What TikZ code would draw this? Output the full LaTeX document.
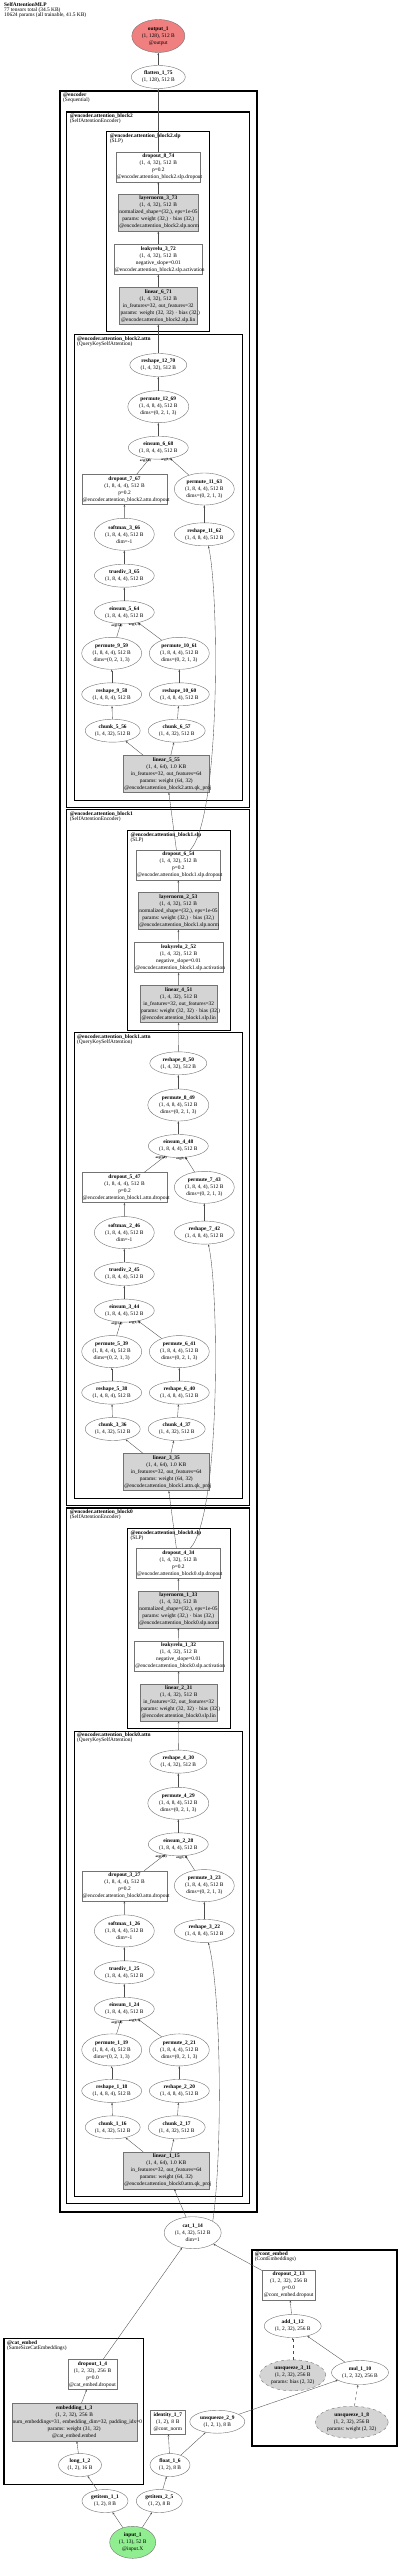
\documentclass[tikz,border=0pt]{standalone}
\usepackage{fontspec}
\setmainfont{Liberation Serif}
\usetikzlibrary{shapes.geometric, arrows.meta}
\definecolor{outred}{HTML}{F08080}
\definecolor{ingreen}{HTML}{90EE90}
\hyphenpenalty=10000
\exhyphenpenalty=10000

\begin{document}
\begin{tikzpicture}[x=1pt, y=-1pt,
    every node/.style={font=\fontsize{5.4}{7}\selectfont},
    fn/.style={ellipse, draw=black!55, line width=0.4pt, fill=white, inner sep=0pt, align=center, minimum width=60pt, minimum height=23pt},
    fn3/.style={fn, minimum height=32pt},
    pfn/.style={fn3, fill=black!17, dashed},
    mod/.style={rectangle, draw=black!55, line width=0.4pt, fill=white, inner sep=1pt, align=center, minimum height=30pt},
    modp/.style={mod, fill=black!17, minimum height=37pt},
    link/.style={draw=black!70, line width=0.35pt, -{Stealth[length=2.4pt, width=1.8pt]}},
    argl/.style={font=\fontsize{3.3}{4}\selectfont\bfseries, inner sep=0pt, anchor=north east, xshift=2pt},
    grplbl/.style={font=\fontsize{5.4}{5}\selectfont, anchor=north west, inner sep=0pt, align=left},
    grp/.style={draw=black, line width=1pt}]
\useasboundingbox (0,0) rectangle (400,2561);

\node[grplbl] (title) at (4,2) {\textbf{SelfAttentionMLP}\\77 tensors total (34.5 KB)\\10624 params (all trainable, 41.5 KB)};

\draw[grp, line width=1.6pt] (60,91) rectangle (257,2211.7);
\node[grplbl] (encoderlbl) at (63,93) {\textbf{@encoder}\\(Sequential)};
\draw[grp, line width=1.3pt] (66.7,112) rectangle (249.3,807.3);
\node[grplbl] (block2lbl) at (69.7,114) {\textbf{@encoder.attention\_block2}\\(SelfAttentionEncoder)};
\draw[grp] (106.7,132) rectangle (209.3,331.7);
\node[grplbl] (slp2lbl) at (109.7,134) {\textbf{@encoder.attention\_block2.slp}\\(SLP)};
\draw[grp] (74,334.3) rectangle (242.7,800);
\node[grplbl] (attn2lbl) at (77,336.3) {\textbf{@encoder.attention\_block2.attn}\\(QueryKeySelfAttention)};
\draw[grp, line width=1.3pt] (66.7,809.5) rectangle (249.3,1505.3);
\node[grplbl] (block1lbl) at (69.7,811.5) {\textbf{@encoder.attention\_block1}\\(SelfAttentionEncoder)};
\draw[grp] (127.3,830.3) rectangle (230,1030);
\node[grplbl] (slp1lbl) at (130.3,832.3) {\textbf{@encoder.attention\_block1.slp}\\(SLP)};
\draw[grp] (74,1032.6) rectangle (242.7,1498.3);
\node[grplbl] (attn1lbl) at (77,1034.6) {\textbf{@encoder.attention\_block1.attn}\\(QueryKeySelfAttention)};
\draw[grp, line width=1.3pt] (66.7,1508) rectangle (249.3,2203.8);
\node[grplbl] (block0lbl) at (69.7,1510) {\textbf{@encoder.attention\_block0}\\(SelfAttentionEncoder)};
\draw[grp] (127.3,1528.6) rectangle (230,1728.3);
\node[grplbl] (slp0lbl) at (130.3,1530.6) {\textbf{@encoder.attention\_block0.slp}\\(SLP)};
\draw[grp] (74,1731) rectangle (242.7,2196.6);
\node[grplbl] (attn0lbl) at (77,1733) {\textbf{@encoder.attention\_block0.attn}\\(QueryKeySelfAttention)};
\draw[grp, line width=1.6pt] (4,2338.3) rectangle (143.3,2484.3);
\node[grplbl] (catlbl) at (7,2340.3) {\textbf{@cat\_embed}\\(SameSizeCatEmbeddings)};
\draw[grp, line width=1.6pt] (251.7,2250) rectangle (396.7,2446);
\node[grplbl] (contlbl) at (254.7,2252) {\textbf{@cont\_embed}\\(ContEmbeddings)};

\node[fn3, minimum width=53pt, minimum height=33pt, fill=outred] (output_1) at (158.3,36) {\textbf{output\_1}\\(1, 128), 512 B\\@output};
\node[fn, minimum width=54pt] (flatten_1_75) at (158.3,77) {\textbf{flatten\_1\_75}\\(1, 128), 512 B};

\node[mod, text width=82.7pt] (dropout_8_74) at (158.3,166.7) {\textbf{dropout\_8\_74}\\(1, 4, 32), 512 B\\p=0.2\\@encoder.attention\_block2.slp.dropout};
\node[modp, text width=78pt] (layernorm_3_73) at (158.3,212.7) {\textbf{layernorm\_3\_73}\\(1, 4, 32), 512 B\\normalized\_shape=(32,),~eps=1e-05\\params:~weight~(32,)~·~bias~(32,)\\@encoder.attention\_block2.slp.norm};
\node[mod, text width=86.7pt] (leakyrelu_3_72) at (158.3,259.3) {\textbf{leakyrelu\_3\_72}\\(1, 4, 32), 512 B\\negative\_slope=0.01\\@encoder.attention\_block2.slp.activation};
\node[modp, text width=75.3pt] (linear_6_71) at (158.3,305.8) {\textbf{linear\_6\_71}\\(1, 4, 32), 512 B\\in\_features=32,~out\_features=32\\params:~weight~(32,~32)~·~bias~(32,)\\@encoder.attention\_block2.slp.lin};
\node[fn, minimum width=57pt] (reshape_12_70) at (158.3,365) {\textbf{reshape\_12\_70}\\(1, 4, 32), 512 B};
\node[fn3, minimum width=61pt] (permute_12_69) at (158.3,406.7) {\textbf{permute\_12\_69}\\(1, 4, 8, 4), 512 B\\dims=(0, 2, 1, 3)};
\node[fn] (einsum_6_68) at (158.3,447.7) {\textbf{einsum\_6\_68}\\(1, 8, 4, 4), 512 B};
\node[mod, text width=83.6pt] (dropout_7_67) at (124.5,489.3) {\textbf{dropout\_7\_67}\\(1, 8, 4, 4), 512 B\\p=0.2\\@encoder.attention\_block2.attn.dropout};
\node[fn3] (permute_11_63) at (204.3,489) {\textbf{permute\_11\_63}\\(1, 8, 4, 4), 512 B\\dims=(0, 2, 1, 3)};
\node[fn3] (softmax_3_66) at (124.3,534.3) {\textbf{softmax\_3\_66}\\(1, 8, 4, 4), 512 B\\dim=-1};
\node[fn] (reshape_11_62) at (204.3,534.3) {\textbf{reshape\_11\_62}\\(1, 4, 8, 4), 512 B};
\node[fn] (truediv_3_65) at (124.3,575.7) {\textbf{truediv\_3\_65}\\(1, 8, 4, 4), 512 B};
\node[fn] (einsum_5_64) at (124.3,612.3) {\textbf{einsum\_5\_64}\\(1, 8, 4, 4), 512 B};
\node[fn3] (permute_9_59) at (111.7,653.3) {\textbf{permute\_9\_59}\\(1, 8, 4, 4), 512 B\\dims=(0, 2, 1, 3)};
\node[fn3] (permute_10_61) at (179.3,653.3) {\textbf{permute\_10\_61}\\(1, 8, 4, 4), 512 B\\dims=(0, 2, 1, 3)};
\node[fn] (reshape_9_58) at (111.7,694.3) {\textbf{reshape\_9\_58}\\(1, 4, 8, 4), 512 B};
\node[fn] (reshape_10_60) at (179.3,694.3) {\textbf{reshape\_10\_60}\\(1, 4, 8, 4), 512 B};
\node[fn, minimum width=55pt] (chunk_5_56) at (112.7,730.7) {\textbf{chunk\_5\_56}\\(1, 4, 32), 512 B};
\node[fn, minimum width=57pt] (chunk_6_57) at (176.7,730.7) {\textbf{chunk\_6\_57}\\(1, 4, 32), 512 B};
\node[modp, text width=84pt] (linear_5_55) at (166.3,773.8) {\textbf{linear\_5\_55}\\(1, 4, 64), 1.0 KB\\in\_features=32, out\_features=64\\params:~weight~(64,~32)\\@encoder.attention\_block2.attn.qk\_proj};

\node[mod, text width=82.4pt] (dropout_6_54) at (178.4,865.0) {\textbf{dropout\_6\_54}\\(1, 4, 32), 512 B\\p=0.2\\@encoder.attention\_block1.slp.dropout};
\node[modp, text width=78pt] (layernorm_2_53) at (178.3,911.0) {\textbf{layernorm\_2\_53}\\(1, 4, 32), 512 B\\normalized\_shape=(32,),~eps=1e-05\\params:~weight~(32,)~·~bias~(32,)\\@encoder.attention\_block1.slp.norm};
\node[mod, text width=86.4pt] (leakyrelu_2_52) at (178.5,957.6) {\textbf{leakyrelu\_2\_52}\\(1, 4, 32), 512 B\\negative\_slope=0.01\\@encoder.attention\_block1.slp.activation};
\node[modp, text width=75.3pt] (linear_4_51) at (178.7,1004.1) {\textbf{linear\_4\_51}\\(1, 4, 32), 512 B\\in\_features=32,~out\_features=32\\params:~weight~(32,~32)~·~bias~(32,)\\@encoder.attention\_block1.slp.lin};
\node[fn, minimum width=57pt] (reshape_8_50) at (178.3,1063.3) {\textbf{reshape\_8\_50}\\(1, 4, 32), 512 B};
\node[fn3, minimum width=61pt] (permute_8_49) at (178.3,1105.0) {\textbf{permute\_8\_49}\\(1, 4, 8, 4), 512 B\\dims=(0, 2, 1, 3)};
\node[fn] (einsum_4_48) at (178.3,1146.0) {\textbf{einsum\_4\_48}\\(1, 8, 4, 4), 512 B};
\node[mod, text width=83.6pt] (dropout_5_47) at (124.5,1187.6) {\textbf{dropout\_5\_47}\\(1, 8, 4, 4), 512 B\\p=0.2\\@encoder.attention\_block1.attn.dropout};
\node[fn3] (permute_7_43) at (204.3,1187.3) {\textbf{permute\_7\_43}\\(1, 8, 4, 4), 512 B\\dims=(0, 2, 1, 3)};
\node[fn3] (softmax_2_46) at (124.3,1232.6) {\textbf{softmax\_2\_46}\\(1, 8, 4, 4), 512 B\\dim=-1};
\node[fn] (reshape_7_42) at (204.3,1232.6) {\textbf{reshape\_7\_42}\\(1, 4, 8, 4), 512 B};
\node[fn] (truediv_2_45) at (124.3,1274.0) {\textbf{truediv\_2\_45}\\(1, 8, 4, 4), 512 B};
\node[fn] (einsum_3_44) at (124.3,1310.6) {\textbf{einsum\_3\_44}\\(1, 8, 4, 4), 512 B};
\node[fn3] (permute_5_39) at (111.7,1351.6) {\textbf{permute\_5\_39}\\(1, 8, 4, 4), 512 B\\dims=(0, 2, 1, 3)};
\node[fn3] (permute_6_41) at (179.3,1351.6) {\textbf{permute\_6\_41}\\(1, 8, 4, 4), 512 B\\dims=(0, 2, 1, 3)};
\node[fn] (reshape_5_38) at (111.7,1392.6) {\textbf{reshape\_5\_38}\\(1, 4, 8, 4), 512 B};
\node[fn] (reshape_6_40) at (179.3,1392.6) {\textbf{reshape\_6\_40}\\(1, 4, 8, 4), 512 B};
\node[fn, minimum width=55pt] (chunk_3_36) at (112.7,1429.0) {\textbf{chunk\_3\_36}\\(1, 4, 32), 512 B};
\node[fn, minimum width=57pt] (chunk_4_37) at (176.7,1429.0) {\textbf{chunk\_4\_37}\\(1, 4, 32), 512 B};
\node[modp, text width=84pt] (linear_3_35) at (166.3,1472.1) {\textbf{linear\_3\_35}\\(1, 4, 64), 1.0 KB\\in\_features=32, out\_features=64\\params:~weight~(64,~32)\\@encoder.attention\_block1.attn.qk\_proj};

\node[mod, text width=82.4pt] (dropout_4_34) at (178.4,1563.3) {\textbf{dropout\_4\_34}\\(1, 4, 32), 512 B\\p=0.2\\@encoder.attention\_block0.slp.dropout};
\node[modp, text width=78pt] (layernorm_1_33) at (178.3,1609.3) {\textbf{layernorm\_1\_33}\\(1, 4, 32), 512 B\\normalized\_shape=(32,),~eps=1e-05\\params:~weight~(32,)~·~bias~(32,)\\@encoder.attention\_block0.slp.norm};
\node[mod, text width=86.4pt] (leakyrelu_1_32) at (178.5,1655.9) {\textbf{leakyrelu\_1\_32}\\(1, 4, 32), 512 B\\negative\_slope=0.01\\@encoder.attention\_block0.slp.activation};
\node[modp, text width=75.3pt] (linear_2_31) at (178.7,1702.4) {\textbf{linear\_2\_31}\\(1, 4, 32), 512 B\\in\_features=32,~out\_features=32\\params:~weight~(32,~32)~·~bias~(32,)\\@encoder.attention\_block0.slp.lin};
\node[fn, minimum width=57pt] (reshape_4_30) at (178.3,1761.6) {\textbf{reshape\_4\_30}\\(1, 4, 32), 512 B};
\node[fn3, minimum width=61pt] (permute_4_29) at (178.3,1803.3) {\textbf{permute\_4\_29}\\(1, 4, 8, 4), 512 B\\dims=(0, 2, 1, 3)};
\node[fn] (einsum_2_28) at (178.3,1844.3) {\textbf{einsum\_2\_28}\\(1, 8, 4, 4), 512 B};
\node[mod, text width=83.6pt] (dropout_3_27) at (124.5,1885.9) {\textbf{dropout\_3\_27}\\(1, 8, 4, 4), 512 B\\p=0.2\\@encoder.attention\_block0.attn.dropout};
\node[fn3] (permute_3_23) at (204.3,1885.6) {\textbf{permute\_3\_23}\\(1, 8, 4, 4), 512 B\\dims=(0, 2, 1, 3)};
\node[fn3] (softmax_1_26) at (124.3,1930.9) {\textbf{softmax\_1\_26}\\(1, 8, 4, 4), 512 B\\dim=-1};
\node[fn] (reshape_3_22) at (204.3,1930.9) {\textbf{reshape\_3\_22}\\(1, 4, 8, 4), 512 B};
\node[fn] (truediv_1_25) at (124.3,1972.3) {\textbf{truediv\_1\_25}\\(1, 8, 4, 4), 512 B};
\node[fn] (einsum_1_24) at (124.3,2008.9) {\textbf{einsum\_1\_24}\\(1, 8, 4, 4), 512 B};
\node[fn3] (permute_1_19) at (111.7,2049.9) {\textbf{permute\_1\_19}\\(1, 8, 4, 4), 512 B\\dims=(0, 2, 1, 3)};
\node[fn3] (permute_2_21) at (179.3,2049.9) {\textbf{permute\_2\_21}\\(1, 8, 4, 4), 512 B\\dims=(0, 2, 1, 3)};
\node[fn] (reshape_1_18) at (111.7,2090.9) {\textbf{reshape\_1\_18}\\(1, 4, 8, 4), 512 B};
\node[fn] (reshape_2_20) at (179.3,2090.9) {\textbf{reshape\_2\_20}\\(1, 4, 8, 4), 512 B};
\node[fn, minimum width=55pt] (chunk_1_16) at (112.7,2127.3) {\textbf{chunk\_1\_16}\\(1, 4, 32), 512 B};
\node[fn, minimum width=57pt] (chunk_2_17) at (176.7,2127.3) {\textbf{chunk\_2\_17}\\(1, 4, 32), 512 B};
\node[modp, text width=84pt] (linear_1_15) at (166.3,2170.4) {\textbf{linear\_1\_15}\\(1, 4, 64), 1.0 KB\\in\_features=32, out\_features=64\\params:~weight~(64,~32)\\@encoder.attention\_block0.attn.qk\_proj};

\node[fn3, minimum width=57pt] (cat_1_14) at (192.7,2232.7) {\textbf{cat\_1\_14}\\(1, 4, 32), 512 B\\dim=1};
\node[mod, text width=50.7pt] (dropout_2_13) at (288.7,2285) {\textbf{dropout\_2\_13}\\(1, 2, 32), 256 B\\p=0.0\\@cont\_embed.dropout};
\node[fn, minimum width=57pt] (add_1_12) at (292.7,2326) {\textbf{add\_1\_12}\\(1, 2, 32), 256 B};
\node[pfn, minimum width=66pt, minimum height=31pt] (unsqueeze_3_11) at (292.7,2375.3) {\textbf{unsqueeze\_3\_11}\\(1, 2, 32), 256 B\\params: bias (2, 32)};
\node[fn, minimum width=57pt, minimum height=24pt] (mul_1_10) at (360,2372.5) {\textbf{mul\_1\_10}\\(1, 2, 32), 256 B};
\node[pfn, minimum width=73pt] (unsqueeze_1_8) at (351.7,2422.2) {\textbf{unsqueeze\_1\_8}\\(1, 2, 32), 256 B\\params: weight (2, 32)};
\node[fn, minimum width=55pt] (unsqueeze_2_9) at (217.3,2421.7) {\textbf{unsqueeze\_2\_9}\\(1, 2, 1), 8 B};
\node[mod, text width=32.3pt, minimum height=23.3pt] (identity_1_7) at (167.8,2422.3) {\textbf{identity\_1\_7}\\(1, 2), 8 B\\@cont\_norm};
\node[mod, text width=47.6pt] (dropout_1_4) at (92.5,2374.3) {\textbf{dropout\_1\_4}\\(1, 2, 32), 256 B\\p=0.0\\@cat\_embed.dropout};
\node[modp, text width=123pt, minimum height=37.7pt] (embedding_1_3) at (74.2,2422.2) {\textbf{embedding\_1\_3}\\(1, 2, 32), 256 B\\num\_embeddings=31,~embedding\_dim=32,~padding\_idx=0\\params:~weight~(31,~32)\\@cat\_embed.embed};
\node[fn, minimum width=40pt] (float_1_6) at (170,2465) {\textbf{float\_1\_6}\\(1, 2), 8 B};
\node[fn, minimum width=43pt] (long_1_2) at (80,2465) {\textbf{long\_1\_2}\\(1, 2), 16 B};
\node[fn, minimum width=46pt] (getitem_1_1) at (105,2501) {\textbf{getitem\_1\_1}\\(1, 2), 8 B};
\node[fn, minimum width=46pt] (getitem_2_5) at (159.3,2501) {\textbf{getitem\_2\_5}\\(1, 2), 8 B};
\node[fn3, minimum width=46pt, fill=ingreen] (input_1) at (132.7,2542.3) {\textbf{input\_1}\\(1, 13), 52 B\\@input.X};

\draw[link] (flatten_1_75) -- (output_1);
\draw[link] (dropout_8_74) -- (flatten_1_75);
\draw[link] (layernorm_3_73) -- (dropout_8_74);
\draw[link] (leakyrelu_3_72) -- (layernorm_3_73);
\draw[link] (linear_6_71) -- (leakyrelu_3_72);
\draw[link] (reshape_12_70) -- (linear_6_71);
\draw[link] (permute_12_69) -- (reshape_12_70);
\draw[link] (einsum_6_68) -- (permute_12_69);
\draw[link] (dropout_7_67) -- (einsum_6_68) node[argl, at end] (arg68a) {arg(1,0)};
\draw[link] (permute_11_63) -- (einsum_6_68) node[argl, at end] (arg68b) {arg(1,1)};
\draw[link] (softmax_3_66) -- (dropout_7_67);
\draw[link] (truediv_3_65) -- (softmax_3_66);
\draw[link] (einsum_5_64) -- (truediv_3_65);
\draw[link] (reshape_11_62) -- (permute_11_63);
\draw[link] (permute_9_59) -- (einsum_5_64) node[argl, at end] (arg64a) {arg(1,0)};
\draw[link] (permute_10_61) -- (einsum_5_64) node[argl, at end] (arg64b) {arg(1,1)};
\draw[link] (reshape_9_58) -- (permute_9_59);
\draw[link] (reshape_10_60) -- (permute_10_61);
\draw[link] (chunk_5_56) -- (reshape_9_58);
\draw[link] (chunk_6_57) -- (reshape_10_60);
\draw[link] (linear_5_55) -- (chunk_5_56);
\draw[link] (linear_5_55) -- (chunk_6_57);
\draw[link] (dropout_6_54) -- (linear_5_55);
\draw[link] ([xshift=12pt]dropout_6_54.north) .. controls (221,815) and (219,590) .. ([xshift=4pt]reshape_11_62.south);

\draw[link] (layernorm_2_53) -- (dropout_6_54);
\draw[link] (leakyrelu_2_52) -- (layernorm_2_53);
\draw[link] (linear_4_51) -- (leakyrelu_2_52);
\draw[link] (reshape_8_50) -- (linear_4_51);
\draw[link] (permute_8_49) -- (reshape_8_50);
\draw[link] (einsum_4_48) -- (permute_8_49);
\draw[link] (dropout_5_47) -- (einsum_4_48) node[argl, at end] (arg48a) {arg(1,0)};
\draw[link] (permute_7_43) -- (einsum_4_48) node[argl, at end] (arg48b) {arg(1,1)};
\draw[link] (softmax_2_46) -- (dropout_5_47);
\draw[link] (truediv_2_45) -- (softmax_2_46);
\draw[link] (einsum_3_44) -- (truediv_2_45);
\draw[link] (reshape_7_42) -- (permute_7_43);
\draw[link] (permute_5_39) -- (einsum_3_44) node[argl, at end] (arg44a) {arg(1,0)};
\draw[link] (permute_6_41) -- (einsum_3_44) node[argl, at end] (arg44b) {arg(1,1)};
\draw[link] (reshape_5_38) -- (permute_5_39);
\draw[link] (reshape_6_40) -- (permute_6_41);
\draw[link] (chunk_3_36) -- (reshape_5_38);
\draw[link] (chunk_4_37) -- (reshape_6_40);
\draw[link] (linear_3_35) -- (chunk_3_36);
\draw[link] (linear_3_35) -- (chunk_4_37);
\draw[link] (dropout_4_34) -- (linear_3_35);
\draw[link] ([xshift=12pt]dropout_4_34.north) .. controls (221,1513.3) and (219,1288.3) .. ([xshift=4pt]reshape_7_42.south);

\draw[link] (layernorm_1_33) -- (dropout_4_34);
\draw[link] (leakyrelu_1_32) -- (layernorm_1_33);
\draw[link] (linear_2_31) -- (leakyrelu_1_32);
\draw[link] (reshape_4_30) -- (linear_2_31);
\draw[link] (permute_4_29) -- (reshape_4_30);
\draw[link] (einsum_2_28) -- (permute_4_29);
\draw[link] (dropout_3_27) -- (einsum_2_28) node[argl, at end] (arg28a) {arg(1,0)};
\draw[link] (permute_3_23) -- (einsum_2_28) node[argl, at end] (arg28b) {arg(1,1)};
\draw[link] (softmax_1_26) -- (dropout_3_27);
\draw[link] (truediv_1_25) -- (softmax_1_26);
\draw[link] (einsum_1_24) -- (truediv_1_25);
\draw[link] (reshape_3_22) -- (permute_3_23);
\draw[link] (permute_1_19) -- (einsum_1_24) node[argl, at end] (arg24a) {arg(1,0)};
\draw[link] (permute_2_21) -- (einsum_1_24) node[argl, at end] (arg24b) {arg(1,1)};
\draw[link] (reshape_1_18) -- (permute_1_19);
\draw[link] (reshape_2_20) -- (permute_2_21);
\draw[link] (chunk_1_16) -- (reshape_1_18);
\draw[link] (chunk_2_17) -- (reshape_2_20);
\draw[link] (linear_1_15) -- (chunk_1_16);
\draw[link] (linear_1_15) -- (chunk_2_17);
\draw[link] (cat_1_14) -- (linear_1_15);
\draw[link] (cat_1_14.30) .. controls (223,2150) and (221,1990) .. ([xshift=4pt]reshape_3_22.south);

\draw[link] (dropout_2_13) -- (cat_1_14);
\draw[link] (dropout_1_4) -- (cat_1_14);
\draw[link] (add_1_12) -- (dropout_2_13);
\draw[link, dashed] (unsqueeze_3_11) -- (add_1_12);
\draw[link] (mul_1_10) -- (add_1_12);
\draw[link, dashed] (unsqueeze_1_8) -- (mul_1_10);
\draw[link] (unsqueeze_2_9) -- (mul_1_10);
\draw[link] (float_1_6) -- (unsqueeze_2_9);
\draw[link] (float_1_6) -- (identity_1_7);
\draw[link] (getitem_2_5) -- (float_1_6);
\draw[link] (embedding_1_3) -- (dropout_1_4);
\draw[link] (long_1_2) -- (embedding_1_3);
\draw[link] (getitem_1_1) -- (long_1_2);
\draw[link] (input_1) -- (getitem_1_1);
\draw[link] (input_1) -- (getitem_2_5);
\end{tikzpicture}
\end{document}
